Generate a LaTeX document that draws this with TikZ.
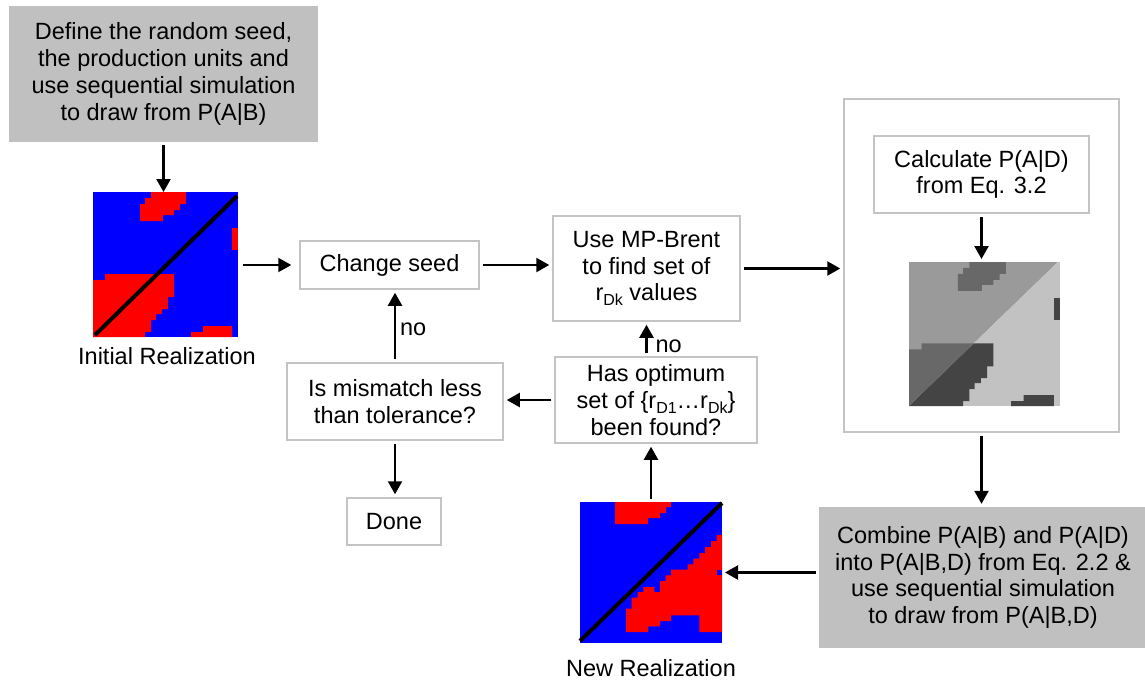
\documentclass[tikz,border=0pt]{standalone}
\usepackage{fontspec}
\setmainfont{Liberation Sans}
\usetikzlibrary{arrows.meta}

\definecolor{boxline}{HTML}{C4C4C4}
\definecolor{boxfill}{HTML}{C0C0C0}
\definecolor{mapblue}{HTML}{0000FF}
\definecolor{mapred}{HTML}{FF0000}
\definecolor{gupper}{HTML}{9A9A9A}
\definecolor{gupperdark}{HTML}{686868}
\definecolor{glower}{HTML}{C2C2C2}
\definecolor{glowerdark}{HTML}{444444}

% small lowered index, as in r_Dk
\newcommand{\lowidx}[1]{\raisebox{-5pt}{\fontsize{16}{16}\selectfont #1}}

% facies patches of the initial realization, in a 145 x 145 frame (y downward)
\newcommand{\initpatches}[1]{%
  \fill[#1] (58,0) -- (93,0) -- (93,12) -- (87,12) -- (87,18) -- (81,18) -- (81,23)
    -- (70,23) -- (70,29) -- (47,29) -- (47,12) -- (52,12) -- (52,6) -- (58,6) -- cycle;
  \fill[#1] (139,36) rectangle (145,58);
  \fill[#1] (0,88) -- (12,88) -- (12,82) -- (81,82) -- (81,105) -- (75,105) -- (75,117)
    -- (69,117) -- (69,122) -- (63,122) -- (63,128) -- (58,128) -- (58,140) -- (52,140)
    -- (52,145) -- (0,145) -- cycle;
  \fill[#1] (98,145) -- (98,140) -- (110,140) -- (110,134) -- (139,134) -- (139,145) -- cycle;
}

\tikzset{
  flowbox/.style={draw=boxline, line width=1.5pt, fill=white, align=center, inner sep=0pt},
  shadedbox/.style={fill=boxfill, align=center, inner sep=0pt},
  outerbox/.style={draw=boxline, line width=1.5pt, inner sep=0pt},
  mapframe/.style={inner sep=0pt, outer sep=0pt, draw=none},
  arr/.style={line width=2.2pt, -{Triangle[length=13pt,width=14pt]}, shorten >=3pt, shorten <=3pt},
  caption/.style={align=center, inner sep=0pt},
}

\begin{document}
\begin{tikzpicture}[x=1pt, y=-1pt, font=\fontsize{23.5}{26.7}\selectfont]
\useasboundingbox (0,0) rectangle (1145,681);
\fill[white] (0,0) rectangle (1145,681);

% ---------- outer frame around the P(A|D) step ----------
\node[outerbox, minimum width=275, minimum height=333] (bigbox) at (981.5,265.5) {};

% ---------- process boxes ----------
\node[shadedbox, minimum width=309, minimum height=136] (start) at (163.5,74)
  {Define the random seed,\\the production units and\\use sequential simulation\\to draw from P(A|B)};
\node[flowbox, minimum width=179, minimum height=48] (change) at (389.5,265) {Change seed};
\node[flowbox, minimum width=187, minimum height=105] (brent) at (646.5,268.5)
  {Use MP-Brent\\to find set of\\r\lowidx{Dk} values};
\node[flowbox, minimum width=202, minimum height=86] (optimum) at (656,400)
  {Has optimum\\set of \{r\lowidx{D1}…r\lowidx{Dk}\}\\been found?};
\node[flowbox, minimum width=216, minimum height=77] (mismatch) at (395,401.5)
  {Is mismatch less\\than tolerance?};
\node[flowbox, minimum width=94, minimum height=47] (done) at (394,521.5) {Done};
\node[flowbox, minimum width=215, minimum height=77] (calc) at (981.5,174.5)
  {Calculate P(A|D)\\from Eq. 3.2};
\node[shadedbox, minimum width=328, minimum height=141] (combine) at (983,577.5)
  {Combine P(A|B) and P(A|D)\\into P(A|B,D) from Eq. 2.2 \&\\use sequential simulation\\to draw from P(A|B,D)};

% ---------- initial realization map ----------
\node[mapframe, minimum width=145, minimum height=145] (initmap) at (165.5,264.5) {};
\begin{scope}[shift={(93,192)}]
  \fill[mapblue] (0,0) rectangle (145,145);
  \initpatches{mapred}
  \draw[line width=4pt] (2,143) -- (144,4);
\end{scope}
\node[caption] (initlabel) at (167,356) {Initial Realization};

% ---------- probability map P(A|D) ----------
\node[mapframe, minimum width=151, minimum height=144] (probmap) at (984.5,334) {};
\begin{scope}[shift={(909,262)}, xscale=151/145, yscale=144/145]
  \begin{scope}
    \clip (0,0) -- (143,0) -- (0,145) -- cycle;
    \fill[gupper] (0,0) rectangle (145,145);
    \initpatches{gupperdark}
  \end{scope}
  \begin{scope}
    \clip (143,0) -- (145,0) -- (145,145) -- (0,145) -- cycle;
    \fill[glower] (0,0) rectangle (145,145);
    \initpatches{glowerdark}
  \end{scope}
\end{scope}

% ---------- new realization map ----------
\node[mapframe, minimum width=142, minimum height=141] (newmap) at (651,572.5) {};
\begin{scope}[shift={(580,502)}]
  \fill[mapblue] (0,0) rectangle (142,141);
  \fill[mapred] (35,0) -- (91,0) -- (91,5) -- (86,5) -- (86,11) -- (80,11) -- (80,16)
    -- (68,16) -- (68,22) -- (35,22) -- cycle;
  \fill[mapred] (142,33) -- (136.7,33) -- (136.7,39) -- (131,39) -- (131,45) -- (125,45)
    -- (125,51) -- (119.3,51) -- (119.3,56.7) -- (113.3,56.7) -- (113.3,62.3) -- (107.7,62.3)
    -- (107.7,67.7) -- (91,67.7) -- (91,73.3) -- (85.7,73.3) -- (85.7,79) -- (80,79)
    -- (80,90) -- (74.3,90) -- (74.3,85) -- (63.3,85) -- (63.3,90) -- (57.7,90)
    -- (57.7,95.7) -- (51.7,95.7) -- (51.7,106.7) -- (46,106.7) -- (46,130) -- (68.3,130)
    -- (68.3,124.3) -- (80,124.3) -- (80,119) -- (91,119) -- (91,113.3) -- (119.3,113.3)
    -- (119.3,130) -- (142,130) -- cycle;
  \fill[mapblue] (136.7,67.7) rectangle (142,73.3);
  \draw[line width=4pt] (0,139) -- (142,1);
\end{scope}
\node[caption] (newlabel) at (651,668) {New Realization};

% ---------- connectors ----------
\draw[arr, shorten >=0pt] (start.south) -- (start.south |- initmap.north);
\draw[arr, shorten <=5pt, shorten >=8pt] (initmap.east |- change.west) -- (change.west);
\draw[arr] (change.east) -- (change.east -| brent.west);
\draw[arr] (brent.east) -- (brent.east -| bigbox.west);
\draw[arr] (calc.south) -- (calc.south |- probmap.north);
\draw[arr] (bigbox.south) -- (bigbox.south |- combine.north);
\draw[arr] (combine.west |- newmap.east) -- (newmap.east);
\draw[arr] (newmap.north) -- (newmap.north |- optimum.south);
\draw[arr] (brent.south |- optimum.north) -- (brent.south)
  node[pos=0.3, right=8pt, inner sep=0pt] (no2) {no};
\draw[arr] (optimum.west) -- (optimum.west -| mismatch.east);
\draw[arr] (mismatch.north) -- (mismatch.north |- change.south)
  node[pos=0.45, right=4pt, inner sep=0pt] (no1) {no};
\draw[arr] (mismatch.south) -- (mismatch.south |- done.north);

\end{tikzpicture}
\end{document}
